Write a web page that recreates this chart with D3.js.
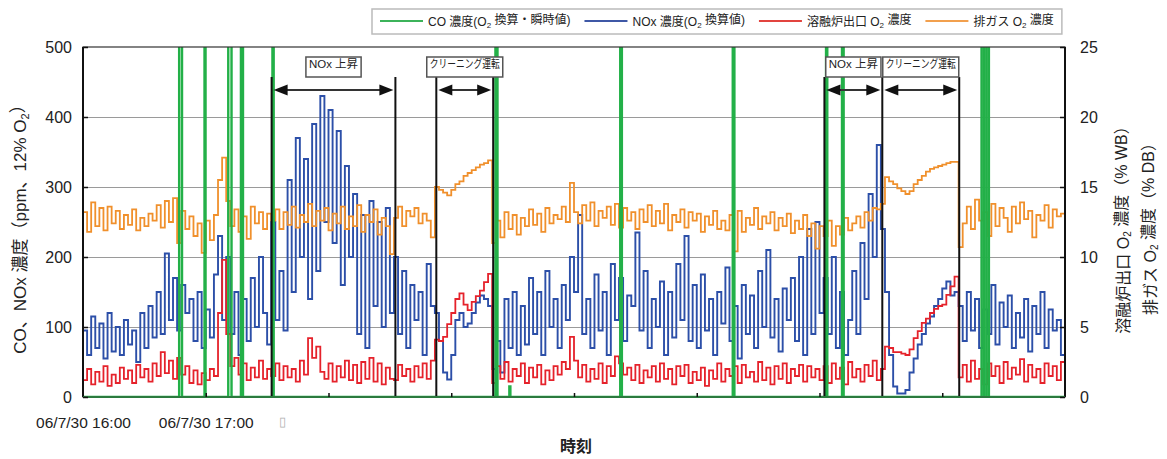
<!DOCTYPE html>
<html>
<head>
<meta charset="utf-8">
<script src="https://cdn.jsdelivr.net/npm/d3@7"></script>
<style>
body { margin: 0; background: #fff; }
svg text { font-family: "Liberation Sans", "Noto Sans CJK JP", sans-serif; fill: #222; }
</style>
</head>
<body>
<div id="chart"></div>
<script>
// 資料: 2分ごとのサンプル (16:00 ~ 24:00)
const sampleStepMin = 2

// NOx 濃度 (ppm, O2 換算値)
const noxValues = [
  95, 60, 115, 70, 105, 55, 120, 65, 100, 60, 110,
  75, 95, 50, 120, 70, 130, 85, 150, 90, 205,
  110, 170, 95, 160, 120, 140, 80, 150, 70, 125,
  85, 175, 230, 110, 200, 90, 150, 60, 140, 80,
  170, 100, 200, 120, 75,
  250, 110, 180, 95, 310, 150, 370, 200, 340, 140,
  390, 180, 430, 250, 410, 220, 380, 160, 330, 200,
  290, 90, 260, 70, 280, 130, 250, 100, 270, 120,
  200, 90, 180, 70, 160, 110, 150, 60, 190, 130,
  120, 80, 35, 25, 60, 110, 120, 100, 105, 120, 135, 145, 140, 130,
  40, 80, 35, 140, 70, 150, 60, 130, 75, 170,
  90, 150, 60, 180, 100, 140, 70, 160, 110, 200,
  150, 260, 90, 140, 70, 175, 95, 150, 60, 190,
  110, 170, 80, 145, 130, 235, 95, 180, 70, 140,
  100, 165, 60, 150, 85, 190, 110, 230, 80, 160,
  70, 175, 95, 140, 60, 150, 105, 185, 80, 130,
  55, 160, 90, 145, 70, 180, 100, 210, 85, 140,
  65, 155, 110, 170, 80, 200, 60, 240, 90, 250, 120,
  170, 90, 200, 70, 150, 60, 110, 180, 90, 220, 140, 290, 200, 360,
  240, 150, 60, 15, 5, 5, 10, 35, 55, 75, 90, 105, 115, 130, 140, 155, 165, 145, 150,
  130, 80, 150, 95, 140, 70, 125, 90, 160, 75,
  135, 100, 145, 70, 120, 85, 140, 65, 130, 90,
  150, 70, 125, 95, 110, 60, 100
]

// 溶融炉出口 O2 濃度 (% WB)
const meltO2Values = [
  1.2, 2.0, 0.9, 1.8, 1.1, 2.2, 0.8, 1.6, 1.0, 2.1, 1.3,
  1.9, 1.0, 2.3, 1.4, 2.0, 1.1, 2.4, 1.5, 3.2, 1.7,
  2.6, 1.3, 2.8, 1.6, 2.2, 1.0, 1.9, 0.9, 1.7, 1.2,
  2.0, 1.5, 6.0, 9.8, 4.5, 2.2, 2.8, 1.6, 2.4, 1.2,
  2.1, 1.4, 2.6, 1.3, 2.0,
  1.5, 2.4, 1.2, 2.2, 1.4, 2.0, 1.1, 2.6, 1.6, 4.2,
  2.8, 3.6, 1.8, 1.3, 2.4, 1.1, 2.2, 1.4, 2.6, 1.2,
  2.3, 1.0, 2.5, 1.3, 2.8, 1.1, 2.4, 0.9, 2.1, 1.3,
  1.2, 2.3, 1.5, 2.0, 1.1, 2.2, 1.4, 2.4, 1.3, 2.6,
  4.1, 4.0, 4.3, 5.2, 6.0, 7.0, 7.4, 6.6, 6.2, 6.8, 7.2, 7.6, 8.2, 8.8,
  1.0, 2.2, 1.3, 2.5, 1.1, 2.0, 1.5, 2.4, 1.0, 2.1,
  1.4, 2.3, 0.9, 1.9, 1.2, 2.2, 1.6, 2.5, 2.0, 4.3,
  2.6, 1.4, 2.3, 1.1, 2.0, 1.3, 2.4, 1.0, 2.2, 1.5,
  2.9, 2.4, 1.6, 2.1, 1.2, 2.3, 1.0, 1.9, 1.4, 2.2,
  1.1, 2.4, 1.3, 2.0, 0.9, 2.2, 1.5, 2.3, 1.0, 1.8,
  1.2, 2.1, 0.8, 1.9, 1.3, 2.4, 1.1, 2.0, 1.5, 2.2,
  1.0, 2.3, 1.4, 1.8, 1.1, 2.5, 1.2, 2.1, 0.9, 2.2,
  1.3, 2.4, 1.0, 2.0, 1.5, 2.3, 1.1, 2.2, 1.4, 2.0, 1.2,
  2.2, 1.0, 2.4, 1.3, 2.1, 0.9, 2.5, 1.4, 2.0, 1.1, 2.3, 1.5, 2.6, 1.2,
  2.0, 3.6, 3.5, 3.2, 3.2, 3.1, 3.0, 3.4, 4.2, 4.7, 5.3, 5.6, 6.0, 6.3, 6.5, 6.6, 7.3, 7.9, 8.6,
  1.4, 2.3, 1.1, 2.6, 1.3, 2.0, 0.9, 2.4, 1.5, 2.2,
  1.0, 2.5, 1.3, 2.1, 1.6, 2.7, 1.1, 2.3, 1.4, 2.0,
  1.0, 2.4, 1.5, 2.2, 1.2, 2.5, 1.3
]

// 排ガス O2 濃度 (% DB)
const exhaustO2Values = [
  13.2, 11.8, 13.9, 12.2, 13.5, 11.9, 13.6, 12.4, 13.3, 12.0, 13.0,
  12.3, 13.4, 11.9, 12.8, 12.2, 13.1, 12.6, 13.7, 12.1, 14.0,
  12.5, 14.2, 11.0, 13.3, 12.0, 12.9, 11.5, 12.4, 10.3, 12.6,
  11.2, 13.0, 15.5, 17.1, 14.0, 12.2, 13.4, 11.8, 12.9, 11.3,
  13.6, 12.4, 13.2, 12.0, 13.1,
  12.6, 13.4, 12.0, 13.2, 12.3, 13.6, 12.1, 13.0, 12.5, 13.8,
  12.2, 13.3, 12.6, 13.5, 11.9, 13.1, 12.4, 13.6, 12.0, 12.9,
  12.2, 13.7, 11.8, 13.0, 12.5, 13.4, 11.6, 12.8, 12.2, 10.2,
  12.8, 13.6, 12.2, 13.3, 12.9, 13.5, 12.4, 13.1, 12.6, 11.4,
  15.0, 14.8, 14.6, 14.4, 14.8, 15.2, 15.4, 15.8, 16.0, 16.2, 16.4, 16.6, 16.7, 16.9,
  11.0, 12.6, 11.4, 13.2, 12.0, 13.0, 11.6, 12.8, 12.2, 13.4,
  12.3, 13.1, 11.8, 13.5, 12.4, 13.0, 12.7, 13.6, 12.5, 15.3,
  13.2, 12.4, 13.7, 12.6, 13.9, 12.2, 13.3, 12.8, 13.6, 12.3,
  13.8, 12.1, 13.5, 12.6, 13.2, 12.0, 13.4, 12.5, 13.7, 12.2,
  13.3, 12.4, 13.8, 11.9, 13.0, 12.5, 13.4, 12.1, 13.2, 12.6,
  13.1, 11.8, 12.9, 12.3, 13.3, 12.0, 12.6, 11.9, 13.0, 10.4,
  13.3, 11.8, 12.8, 12.3, 13.5, 12.0, 12.9, 12.4, 13.2, 11.9,
  12.8, 12.2, 13.1, 11.7, 12.6, 12.0, 13.0, 11.5, 12.4, 10.6, 12.2,
  11.5, 12.6, 10.8, 12.2, 11.6, 12.8, 11.9, 12.4, 12.9, 12.1, 13.2, 12.6, 13.5, 13.4,
  13.8, 15.7, 15.4, 15.2, 14.9, 14.7, 14.5, 14.7, 15.2, 15.5, 15.8, 16.1, 16.3, 16.4, 16.5, 16.6, 16.7, 16.8, 16.8,
  10.7, 12.4, 13.6, 12.0, 14.1, 12.6, 13.2, 11.5, 13.8, 12.2,
  13.5, 12.8, 11.8, 13.6, 12.4, 13.9, 12.7, 13.3, 11.4, 13.0,
  12.6, 13.7, 12.1, 13.4, 12.9, 13.1, 12.5
]

// CO 濃度 (瞬時値): スパイク (開始分, 終了分, ピーク ppm) それ以外は 0
const coSpikeStart = [47.0, 59.4, 71.0, 77.2, 92.6, 201.6, 208.4, 262.6, 317.6, 363.2, 371.0, 439.2, 441.6]
const coSpikeEnd   = [48.4, 59.9, 72.6, 78.2, 93.2, 202.6, 208.9, 263.4, 318.4, 363.8, 371.8, 440.4, 442.8]
const coSpikePeak  = [900, 900, 900, 900, 900, 900, 15, 900, 900, 900, 900, 900, 900]

// 注記 (運転区分) 分
const markerMinutes = [92.2, 152.7, 172.7, 200.5, 362.4, 390.7, 428.3]
const spanStart = [92.2, 172.7, 362.4, 390.7]
const spanEnd   = [152.7, 200.5, 390.7, 428.3]
const spanLabel = ['NOx 上昇', 'クリーニング運転', 'NOx 上昇', 'クリーニング運転']

// 軸
const leftTicks = [0, 100, 200, 300, 400, 500]
const rightTicks = [0, 5, 10, 15, 20, 25]
const xTickLabels = ['06/7/30 16:00', '06/7/30 17:00', '\u25AF']

const legendLabels = ['CO 濃度(O_2 換算・瞬時値)', 'NOx 濃度(O_2 換算値)', '溶融炉出口 O_2 濃度', '排ガス O_2 濃度']
const legendColors = ['#3cb35a', '#3f58a6', '#e2443f', '#f2a04e']

const startTime = new Date(2006, 6, 30, 16, 0)
const endTime = new Date(2006, 6, 31, 0, 0)
const toTime = m => new Date(startTime.getTime() + m * 60000)

// 版面
const svg_width = 1167, svg_height = 459
const margin = {top: 47, bottom: 62, left: 83, right: 102}
const plotW = svg_width - margin.left - margin.right
const plotH = svg_height - margin.top - margin.bottom

const svg = d3.select('#chart').append('svg')
  .attr('width', svg_width).attr('height', svg_height)

const g = svg.append('g').attr('transform', `translate(${margin.left},${margin.top})`)

const xScale = d3.scaleTime().domain([startTime, endTime]).range([0, plotW])
const yLeft = d3.scaleLinear().domain([0, 500]).range([plotH, 0])
const yRight = d3.scaleLinear().domain([0, 25]).range([plotH, 0])

// 下付き文字 O_2
function richText(sel, str, subSize) {
  const parts = str.split('_2')
  parts.forEach((p, i) => {
    sel.append('tspan').text(p).attr('dy', i > 0 ? '-0.28em' : null)
    if (i < parts.length - 1) {
      sel.append('tspan').text('2').attr('font-size', subSize).attr('dy', '0.28em')
    }
  })
}

// grid
g.append('g').attr('class', 'grid')
  .call(d3.axisLeft(yLeft).tickValues(leftTicks.slice(1, -1)).tickSize(-plotW).tickFormat(''))
  .call(s => s.select('.domain').remove())
  .selectAll('line').attr('stroke', '#9a9a9a').attr('stroke-width', 1)

// clip
svg.append('defs').append('clipPath').attr('id', 'plotclip')
  .append('rect').attr('width', plotW).attr('height', plotH)

const plot = g.append('g').attr('clip-path', 'url(#plotclip)')

const stepLine = yScale => d3.line()
  .x((d, i) => xScale(toTime(i * sampleStepMin)))
  .y(d => yScale(d))
  .curve(d3.curveStepAfter)

plot.append('path').datum(noxValues)
  .attr('fill', 'none').attr('stroke', '#2c4fa8').attr('stroke-width', 1.9)
  .attr('d', stepLine(yLeft))

plot.append('path').datum(exhaustO2Values)
  .attr('fill', 'none').attr('stroke', '#f0902c').attr('stroke-width', 1.8)
  .attr('d', stepLine(yRight))

plot.append('path').datum(meltO2Values)
  .attr('fill', 'none').attr('stroke', '#e5222b').attr('stroke-width', 1.8)
  .attr('d', stepLine(yRight))

// CO series
const coPoints = [[0, 0]]
coSpikeStart.forEach((s, i) => {
  coPoints.push([s, 0], [s, coSpikePeak[i]], [coSpikeEnd[i], coSpikePeak[i]], [coSpikeEnd[i], 0])
})
coPoints.push([480, 0])
plot.append('path').datum(coPoints)
  .attr('fill', 'none').attr('stroke', '#23b048').attr('stroke-width', 2.4)
  .attr('d', d3.line().x(d => xScale(toTime(d[0]))).y(d => yLeft(d[1])))

// markers
const annoTop = 30
g.selectAll('.marker').data(markerMinutes).enter().append('line')
  .attr('x1', d => xScale(toTime(d))).attr('x2', d => xScale(toTime(d)))
  .attr('y1', annoTop).attr('y2', plotH)
  .attr('stroke', '#111').attr('stroke-width', 2)

const arrowY = 43
const arrows = g.selectAll('.span').data(spanStart).enter().append('g')
arrows.each(function (s, i) {
  const a = xScale(toTime(s)) + 2, b = xScale(toTime(spanEnd[i])) - 2
  const el = d3.select(this)
  el.append('line').attr('x1', a + 8).attr('x2', b - 8).attr('y1', arrowY).attr('y2', arrowY)
    .attr('stroke', '#333').attr('stroke-width', 2)
  el.append('path').attr('d', `M${a},${arrowY}L${a + 14},${arrowY - 5.5}L${a + 14},${arrowY + 5.5}Z`).attr('fill', '#111')
  el.append('path').attr('d', `M${b},${arrowY}L${b - 14},${arrowY - 5.5}L${b - 14},${arrowY + 5.5}Z`).attr('fill', '#111')
  const cx = (a + b) / 2
  const box = el.append('rect').attr('fill', '#fff').attr('stroke', '#555').attr('stroke-width', 1.5)
  const t = el.append('text').attr('x', cx).attr('y', 20.5).attr('text-anchor', 'middle')
    .attr('font-size', 11.5).text(spanLabel[i])
  if (t.node().getComputedTextLength() > 70) {
    t.attr('textLength', 70).attr('lengthAdjust', 'spacingAndGlyphs')
  }
  const w = Math.min(t.node().getComputedTextLength(), 70)
  box.attr('x', cx - w / 2 - 3).attr('y', 10).attr('width', w + 6).attr('height', 20)
})

// frame
g.append('rect').attr('width', plotW).attr('height', plotH)
  .attr('fill', 'none').attr('stroke', '#333').attr('stroke-width', 1.2)
g.append('line').attr('x1', 0).attr('x2', 0).attr('y1', 0).attr('y2', plotH).attr('stroke', '#111').attr('stroke-width', 2)
g.append('line').attr('x1', plotW).attr('x2', plotW).attr('y1', 0).attr('y2', plotH).attr('stroke', '#111').attr('stroke-width', 2)
g.append('line').attr('x1', 0).attr('x2', plotW).attr('y1', plotH).attr('y2', plotH).attr('stroke', '#2b7a3e').attr('stroke-width', 2)

// axes
const yAxisL = g.append('g').call(d3.axisLeft(yLeft).tickValues(leftTicks).tickSizeInner(-5).tickSizeOuter(0).tickPadding(11))
yAxisL.select('.domain').remove()
yAxisL.selectAll('line').attr('stroke', '#111').attr('stroke-width', 1.5)
yAxisL.selectAll('text').attr('font-size', 16)

const yAxisR = g.append('g').attr('transform', `translate(${plotW},0)`)
  .call(d3.axisRight(yRight).tickValues(rightTicks).tickSizeInner(-5).tickSizeOuter(0).tickPadding(15))
yAxisR.select('.domain').remove()
yAxisR.selectAll('line').attr('stroke', '#111').attr('stroke-width', 1.5)
yAxisR.selectAll('text').attr('font-size', 16)

const hourTicks = d3.timeHour.every(1).range(startTime, endTime)
const xAxis = g.append('g').attr('transform', `translate(0,${plotH})`)
  .call(d3.axisBottom(xScale).tickValues(hourTicks.slice(1)).tickSizeInner(-4).tickSizeOuter(0)
    .tickFormat(() => ''))
xAxis.select('.domain').remove()
xAxis.selectAll('line').attr('stroke', '#111').attr('stroke-width', 1.5)

const xLabels = g.append('g').attr('transform', `translate(0,${plotH})`)
  .call(d3.axisBottom(xScale).tickValues(hourTicks.slice(0, xTickLabels.length)).tickSize(0).tickPadding(20)
    .tickFormat((d, i) => xTickLabels[i]))
xLabels.select('.domain').remove()
xLabels.selectAll('text').attr('font-size', 15.5)
xLabels.selectAll('.tick').filter((d, i) => i === 2).select('text')
  .attr('text-anchor', 'start').attr('dx', -50).style('fill', '#b0b0b0').attr('font-size', 13)

// axis titles
svg.append('text').attr('x', 576).attr('y', 452).attr('text-anchor', 'middle')
  .attr('font-size', 16).attr('font-weight', 'bold').text('時刻')

const leftTitle = svg.append('text').attr('transform', 'translate(20,225) rotate(-90)')
  .attr('text-anchor', 'middle').attr('dy', '0.35em').attr('font-size', 17)
richText(leftTitle, 'CO、NOx 濃度（ppm、12% O_2）', 11)

const rTitle1 = svg.append('text').attr('transform', 'translate(1123,226) rotate(-90)')
  .attr('text-anchor', 'middle').attr('dy', '0.35em').attr('font-size', 16)
richText(rTitle1, '溶融炉出口 O_2 濃度（% WB）', 10)
const rTitle2 = svg.append('text').attr('transform', 'translate(1150,225) rotate(-90)')
  .attr('text-anchor', 'middle').attr('dy', '0.35em').attr('font-size', 16)
richText(rTitle2, '排ガス O_2 濃度（% DB）', 10)

// legend
const legend = svg.append('g')
const legendBox = legend.append('rect').attr('x', 372).attr('y', 9).attr('height', 25)
  .attr('fill', '#fff').attr('stroke', '#bbb').attr('stroke-width', 1.5)
let lx = 380
legendLabels.forEach((lab, i) => {
  legend.append('line').attr('x1', lx).attr('x2', lx + 43).attr('y1', 21).attr('y2', 21)
    .attr('stroke', legendColors[i]).attr('stroke-width', 2)
  const t = legend.append('text').attr('x', lx + 48).attr('y', 25.5).attr('font-size', 12)
  richText(t, lab, 8)
  lx += 48 + t.node().getComputedTextLength() + 14
})
legendBox.attr('width', lx - 372 - 6)
</script>
</body>
</html>
